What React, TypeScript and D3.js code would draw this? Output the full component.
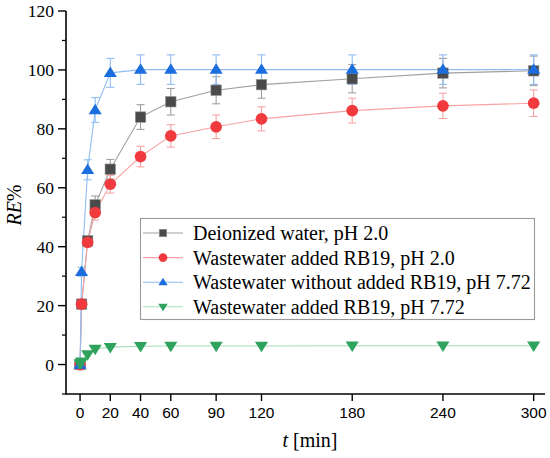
import React from 'react';
import * as d3 from 'd3';

// sampling times [min]
const times = [0, 1, 5, 10, 20, 40, 60, 90, 120, 180, 240, 300];

const deionized = [0, 20.5, 42, 54.2, 66.3, 84.0, 89.2, 93.1, 95.0, 97.0, 98.9, 99.7];
const deionizedErr = [0.5, 1, 1.5, 3, 3.3, 4.2, 4.5, 4.6, 4.6, 4.8, 5, 5];

const wwAdded = [0, 20.5, 41.5, 51.6, 61.2, 70.6, 77.6, 80.7, 83.4, 86.2, 87.8, 88.7];
const wwAddedErr = [0.5, 1, 1.5, 2.5, 3, 3.5, 3.8, 4, 4.1, 4.2, 4.3, 4.5];

const wwWithout = [0, 31.5, 66.1, 86.4, 99.0, 100.1, 100.1, 100.1, 100.1, 100.1, 100.1, 100.1];
const wwWithoutErr = [0.5, 1.5, 3.4, 4.2, 4.9, 5, 5, 5, 5, 5, 5, 5];

const wwAddedHighPh = [0.3, 1, 3.4, 5.3, 5.9, 6.2, 6.3, 6.3, 6.3, 6.4, 6.4, 6.4];

const xTicks = [0, 20, 40, 60, 90, 120, 180, 240, 300];
const yTicks = [0, 20, 40, 60, 80, 100, 120];
const yMinor = [-10, 10, 30, 50, 70, 90, 110];

const series = [
  { name: 'Deionized water, pH 2.0', values: deionized, err: deionizedErr, shape: 'square', fill: '#4a4a4a', line: '#a0a0a0' },
  { name: 'Wastewater added RB19, pH 2.0', values: wwAdded, err: wwAddedErr, shape: 'circle', fill: '#f03a3e', line: '#f7a3a3' },
  { name: 'Wastewater without added RB19, pH 7.72', values: wwWithout, err: wwWithoutErr, shape: 'up', fill: '#1c6ede', line: '#8fbcf2' },
  { name: 'Wastewater added RB19, pH 7.72', values: wwAddedHighPh, err: null as number[] | null, shape: 'down', fill: '#2fa35d', line: '#a6dfbb' },
];

const W = 550;
const H = 458;
const x = d3.scaleLinear().domain([-9.3, 307.5]).range([66, 545]);
const y = d3.scaleLinear().domain([-10, 120]).range([394, 11]);

const Marker = ({ shape, cx, cy, s, fill }: { shape: string; cx: number; cy: number; s: number; fill: string }) => {
  if (shape === 'square') {
    return <rect x={cx - s / 2} y={cy - s / 2} width={s} height={s} fill={fill} stroke="#999" strokeWidth={0.6} />;
  }
  if (shape === 'circle') {
    return <circle cx={cx} cy={cy} r={s / 2 + 0.6} fill={fill} />;
  }
  const w = s * 1.25;
  const h = w * 0.8;
  const d = shape === 'up'
    ? `M${cx},${cy - h * 0.6}L${cx + w / 2},${cy + h * 0.4}L${cx - w / 2},${cy + h * 0.4}Z`
    : `M${cx},${cy + h * 0.6}L${cx + w / 2},${cy - h * 0.4}L${cx - w / 2},${cy - h * 0.4}Z`;
  return <path d={d} fill={fill} />;
};

const App: React.FC = () => {
  const line = d3.line<number>()
    .x((_, i) => x(times[i]))
    .y((v) => y(v));

  const serif = "'Liberation Serif', 'Times New Roman', serif";
  const sans = "'Liberation Sans', Arial, sans-serif";
  const legendRows = [233, 257.6, 282.2, 306.8];

  return (
    <svg width={W} height={H} style={{ position: 'absolute', left: 0, top: 0, background: '#fff' }}>
      {/* axes */}
      <line x1={66} x2={66} y1={y(120)} y2={y(-10) + 0.5} stroke="#000" strokeWidth={1.6} />
      <line x1={66} x2={545} y1={y(-10)} y2={y(-10)} stroke="#000" strokeWidth={1.6} />
      {yTicks.map((t) => (
        <g key={'y' + t}>
          <line x1={58} x2={66} y1={y(t)} y2={y(t)} stroke="#000" strokeWidth={1.4} />
          <text x={54} y={y(t)} dy="0.35em" textAnchor="end" fontFamily={serif} fontSize={17.5}>{t}</text>
        </g>
      ))}
      {yMinor.map((t) => (
        <line key={'ym' + t} x1={62} x2={66} y1={y(t)} y2={y(t)} stroke="#000" strokeWidth={1.2} />
      ))}
      {xTicks.map((t) => (
        <g key={'x' + t}>
          <line x1={x(t)} x2={x(t)} y1={y(-10)} y2={y(-10) + 7} stroke="#000" strokeWidth={1.4} />
          <text x={x(t)} y={418} textAnchor="middle" fontFamily={sans} fontSize={15.5}>{t}</text>
        </g>
      ))}
      <text x={310} y={447} textAnchor="middle" fontFamily={serif} fontSize={20}>
        <tspan fontStyle="italic">t</tspan> [min]
      </text>
      <text transform="translate(21,205) rotate(-90)" textAnchor="middle" fontFamily={serif} fontSize={20}>
        <tspan fontStyle="italic">RE</tspan>%
      </text>

      {/* lines */}
      {series.map((s) => (
        <path key={'l' + s.name} d={line(s.values) || ''} fill="none" stroke={s.line} strokeWidth={1.1} />
      ))}
      {/* error bars */}
      {series.map((s) => s.err && s.values.map((v, i) => {
        const e = s.err![i];
        const cx = x(times[i]);
        return (
          <g key={'e' + s.name + i} stroke={s.line} strokeWidth={1.1}>
            <line x1={cx} x2={cx} y1={y(v + e)} y2={y(v - e)} />
            <line x1={cx - 4} x2={cx + 4} y1={y(v + e)} y2={y(v + e)} />
            <line x1={cx - 4} x2={cx + 4} y1={y(v - e)} y2={y(v - e)} />
          </g>
        );
      }))}
      {/* markers */}
      {series.map((s) => s.values.map((v, i) => (
        <Marker key={'m' + s.name + i} shape={s.shape} cx={x(times[i])} cy={y(v)} s={10.5} fill={s.fill} />
      )))}

      {/* legend */}
      <rect x={140.5} y={218.5} width={394} height={101} fill="#fff" stroke="#999" strokeWidth={1.1} />
      {series.map((s, i) => (
        <g key={'lg' + s.name}>
          <line x1={143} x2={183} y1={legendRows[i]} y2={legendRows[i]} stroke={s.line} strokeWidth={1.1} />
          <Marker shape={s.shape} cx={163} cy={legendRows[i]} s={7.5} fill={s.fill} />
          <text x={193} y={legendRows[i]} dy="0.35em" fontFamily={serif} fontSize={20}>{s.name}</text>
        </g>
      ))}
    </svg>
  );
};

export default App;
